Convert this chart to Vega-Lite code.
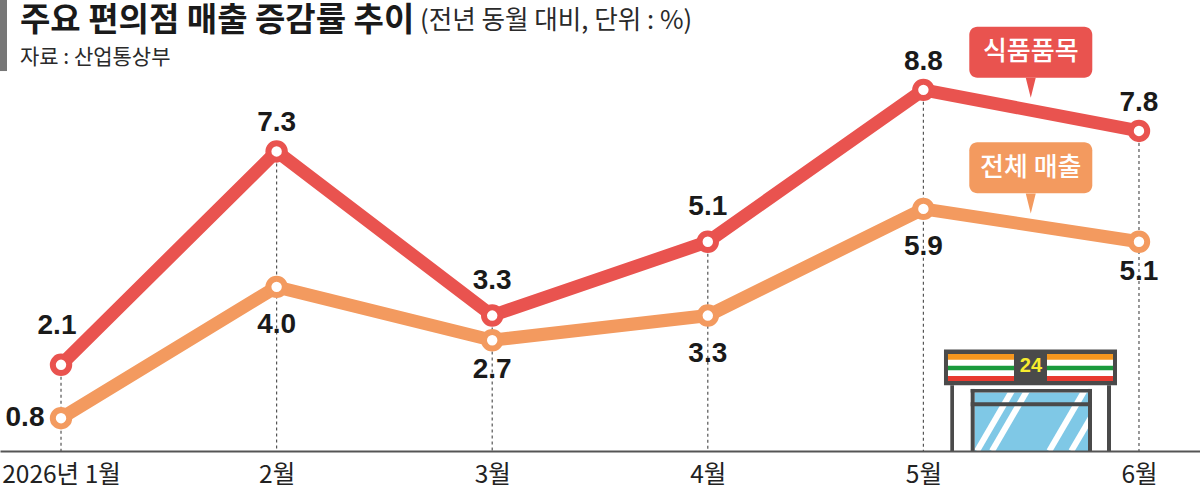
{
  "$schema": "https://vega.github.io/schema/vega-lite/v6.json",
  "width": 1200,
  "height": 451,
  "autosize": "none",
  "padding": {"left": 0, "top": 0, "right": 0, "bottom": 41},
  "background": "white",
  "config": {"view": {"stroke": null}},
  "datasets": {
    "trend": [
      {"month": 1, "part": "food", "value": 2.1},
      {"month": 2, "part": "food", "value": 7.3},
      {"month": 3, "part": "food", "value": 3.3},
      {"month": 4, "part": "food", "value": 5.1},
      {"month": 5, "part": "food", "value": 8.8},
      {"month": 6, "part": "food", "value": 7.8},
      {"month": 1, "part": "total", "value": 0.8},
      {"month": 2, "part": "total", "value": 4.0},
      {"month": 3, "part": "total", "value": 2.7},
      {"month": 4, "part": "total", "value": 3.3},
      {"month": 5, "part": "total", "value": 5.9},
      {"month": 6, "part": "total", "value": 5.1}
    ],
    "callouts": [
      {"part": "food", "label": "식품품목", "from": 5.2129, "to": 5.7834, "low": 9.097, "high": 10.339, "mid": 5.4981, "tip": 8.853, "textY": 9.718},
      {"part": "total", "label": "전체 매출", "from": 5.2129, "to": 5.7834, "low": 6.28, "high": 7.522, "mid": 5.4981, "tip": 6.031, "textY": 6.897}
    ],
    "glass": [
      {"part": "glass", "from": 5.2379, "to": 5.7635, "low": 0, "high": 1.425}
    ],
    "glints": [
      {"from": 5.2486, "to": 5.4124, "low": 0, "high": 1.481},
      {"from": 5.3182, "to": 5.4819, "low": 0, "high": 1.481},
      {"from": 5.5839, "to": 5.7481, "low": 0, "high": 1.481},
      {"from": 5.686, "to": 5.788, "low": 0, "high": 0.915}
    ],
    "store": [
      {"part": "dark", "from": 5.1248, "to": 5.1419, "low": 0, "high": 1.602},
      {"part": "dark", "from": 5.8516, "to": 5.8701, "low": 0, "high": 1.602},
      {"part": "dark", "from": 5.2194, "to": 5.2379, "low": 0, "high": 1.512},
      {"part": "dark", "from": 5.7635, "to": 5.782, "low": 0, "high": 1.512},
      {"part": "dark", "from": 5.2194, "to": 5.782, "low": 1.425, "high": 1.512},
      {"part": "dark", "from": 5.2194, "to": 5.782, "low": 1.092, "high": 1.189},
      {"part": "dark", "from": 5.0955, "to": 5.898, "low": 1.602, "high": 2.476},
      {"part": "white", "from": 5.1141, "to": 5.4202, "low": 1.706, "high": 2.362},
      {"part": "white", "from": 5.5733, "to": 5.8794, "low": 1.706, "high": 2.362},
      {"part": "orange", "from": 5.1141, "to": 5.4202, "low": 2.226, "high": 2.362},
      {"part": "orange", "from": 5.5733, "to": 5.8794, "low": 2.226, "high": 2.362},
      {"part": "green", "from": 5.1141, "to": 5.4202, "low": 1.966, "high": 2.08},
      {"part": "green", "from": 5.5733, "to": 5.8794, "low": 1.966, "high": 2.08},
      {"part": "red", "from": 5.1141, "to": 5.4202, "low": 1.706, "high": 1.828},
      {"part": "red", "from": 5.5733, "to": 5.8794, "low": 1.706, "high": 1.828}
    ],
    "tab": [
      {"part": "bar", "from": 0.717, "to": 0.7495, "low": 9.259, "high": 10.99}
    ]
  },
  "encoding": {
    "color": {
      "field": "part",
      "type": "nominal",
      "legend": null,
      "scale": {
        "domain": ["food", "total", "glass", "dark", "white", "orange", "green", "red", "bar"],
        "range": ["#e9534f", "#f39a5f", "#7fc8e6", "#4a4a4a", "#ffffff", "#f5961e", "#1a9a3c", "#e83a30", "#777777"]
      }
    }
  },
  "layer": [
    {
      "data": {"name": "tab"},
      "mark": {"type": "rect"},
      "encoding": {
        "x": {"field": "from", "type": "quantitative", "scale": {"domain": [0.717, 6.283], "nice": false, "zero": false}},
        "x2": {"field": "to"},
        "y": {"field": "low", "type": "quantitative", "scale": {"domain": [0, 10.99], "nice": false, "zero": false}, "axis": null},
        "y2": {"field": "high"}
      }
    },
    {
      "data": {"name": "trend"},
      "transform": [{"filter": "datum.part == 'food'"}],
      "mark": {"type": "rule", "color": "#555555", "strokeWidth": 1.2, "strokeDash": [3, 3]},
      "encoding": {
        "x": {
          "field": "month",
          "type": "quantitative",
          "axis": {
            "values": [1, 2, 3, 4, 5, 6],
            "labelExpr": "datum.value == 1 ? '2026년 1월' : datum.value + '월'",
            "title": null,
            "grid": false,
            "ticks": false,
            "domainColor": "#555555",
            "domainWidth": 2,
            "labelFont": "Noto Sans CJK KR",
            "labelFontSize": 24.5,
            "labelColor": "#222222",
            "labelPadding": 12,
            "labelOverlap": false,
            "labelFlush": false,
            "zindex": 1
          }
        },
        "y": {"field": "value", "type": "quantitative", "axis": null},
        "y2": {"datum": 0},
        "color": {"value": "#555555"}
      }
    },
    {
      "data": {"name": "glass"},
      "mark": {"type": "rect"},
      "encoding": {
        "x": {"field": "from", "type": "quantitative", "title": null},
        "x2": {"field": "to"},
        "y": {"field": "low", "type": "quantitative", "axis": null},
        "y2": {"field": "high"}
      }
    },
    {
      "data": {"name": "glints"},
      "mark": {"type": "rule", "strokeWidth": 6},
      "encoding": {
        "x": {"field": "from", "type": "quantitative", "title": null},
        "x2": {"field": "to"},
        "y": {"field": "low", "type": "quantitative", "axis": null},
        "y2": {"field": "high"},
        "color": {"value": "#ffffff"}
      }
    },
    {
      "data": {"name": "store"},
      "mark": {"type": "rect"},
      "encoding": {
        "x": {"field": "from", "type": "quantitative", "title": null},
        "x2": {"field": "to"},
        "y": {"field": "low", "type": "quantitative", "axis": null},
        "y2": {"field": "high"}
      }
    },
    {
      "data": {"values": [{"label": "24", "month": 5.499, "level": 2.063}]},
      "mark": {"type": "text", "font": "Liberation Sans", "fontWeight": "bold", "fontSize": 20, "baseline": "middle"},
      "encoding": {
        "x": {"field": "month", "type": "quantitative", "title": null},
        "y": {"field": "level", "type": "quantitative", "axis": null},
        "text": {"field": "label"},
        "color": {"value": "#f7ec2e"}
      }
    },
    {
      "data": {"name": "trend"},
      "mark": {"type": "line", "strokeWidth": 13},
      "encoding": {
        "x": {"field": "month", "type": "quantitative", "title": null},
        "y": {"field": "value", "type": "quantitative", "axis": null}
      }
    },
    {
      "data": {"name": "trend"},
      "mark": {"type": "point", "shape": "circle", "filled": false, "fill": "white", "fillOpacity": 1, "opacity": 1, "size": 270, "strokeWidth": 6},
      "encoding": {
        "x": {"field": "month", "type": "quantitative", "title": null},
        "y": {"field": "value", "type": "quantitative", "axis": null}
      }
    },
    {
      "data": {"name": "callouts"},
      "mark": {"type": "rect", "cornerRadius": 8},
      "encoding": {
        "x": {"field": "from", "type": "quantitative", "title": null},
        "x2": {"field": "to"},
        "y": {"field": "low", "type": "quantitative", "axis": null},
        "y2": {"field": "high"}
      }
    },
    {
      "data": {"name": "callouts"},
      "mark": {"type": "point", "shape": "M-0.5,-1L0.5,-1L0,1Z", "filled": true, "size": 400, "opacity": 1},
      "encoding": {
        "x": {"field": "mid", "type": "quantitative", "title": null},
        "y": {"field": "tip", "type": "quantitative", "axis": null}
      }
    },
    {
      "data": {"name": "callouts"},
      "mark": {"type": "text", "font": "Noto Sans CJK KR", "fontWeight": 500, "fontSize": 26, "baseline": "middle"},
      "encoding": {
        "x": {"field": "mid", "type": "quantitative", "title": null},
        "y": {"field": "textY", "type": "quantitative", "axis": null},
        "text": {"field": "label"},
        "color": {"value": "#ffffff"}
      }
    },
    {
      "data": {"name": "trend"},
      "transform": [{"filter": "datum.part == 'food' && (datum.month == 2 || datum.month >= 5)"}],
      "mark": {"type": "text", "font": "Liberation Sans", "fontWeight": "bold", "fontSize": 28, "baseline": "middle", "dy": -28},
      "encoding": {
        "x": {"field": "month", "type": "quantitative", "title": null},
        "y": {"field": "value", "type": "quantitative", "axis": null},
        "text": {"field": "value", "type": "quantitative", "format": ".1f"},
        "color": {"value": "#1a1a1a"}
      }
    },
    {
      "data": {"name": "trend"},
      "transform": [{"filter": "datum.part == 'food' && (datum.month == 3 || datum.month == 4)"}],
      "mark": {"type": "text", "font": "Liberation Sans", "fontWeight": "bold", "fontSize": 28, "baseline": "middle", "dy": -35},
      "encoding": {
        "x": {"field": "month", "type": "quantitative", "title": null},
        "y": {"field": "value", "type": "quantitative", "axis": null},
        "text": {"field": "value", "type": "quantitative", "format": ".1f"},
        "color": {"value": "#1a1a1a"}
      }
    },
    {
      "data": {"name": "trend"},
      "transform": [{"filter": "datum.part == 'food' && datum.month == 1"}],
      "mark": {"type": "text", "font": "Liberation Sans", "fontWeight": "bold", "fontSize": 28, "baseline": "middle", "dx": -4, "dy": -39},
      "encoding": {
        "x": {"field": "month", "type": "quantitative", "title": null},
        "y": {"field": "value", "type": "quantitative", "axis": null},
        "text": {"field": "value", "type": "quantitative", "format": ".1f"},
        "color": {"value": "#1a1a1a"}
      }
    },
    {
      "data": {"name": "trend"},
      "transform": [{"filter": "datum.part == 'total' && datum.month == 1"}],
      "mark": {"type": "text", "font": "Liberation Sans", "fontWeight": "bold", "fontSize": 28, "baseline": "middle", "dx": -36},
      "encoding": {
        "x": {"field": "month", "type": "quantitative", "title": null},
        "y": {"field": "value", "type": "quantitative", "axis": null},
        "text": {"field": "value", "type": "quantitative", "format": ".1f"},
        "color": {"value": "#1a1a1a"}
      }
    },
    {
      "data": {"name": "trend"},
      "transform": [{"filter": "datum.part == 'total' && (datum.month == 2 || datum.month == 4 || datum.month == 5)"}],
      "mark": {"type": "text", "font": "Liberation Sans", "fontWeight": "bold", "fontSize": 28, "baseline": "middle", "dy": 38},
      "encoding": {
        "x": {"field": "month", "type": "quantitative", "title": null},
        "y": {"field": "value", "type": "quantitative", "axis": null},
        "text": {"field": "value", "type": "quantitative", "format": ".1f"},
        "color": {"value": "#1a1a1a"}
      }
    },
    {
      "data": {"name": "trend"},
      "transform": [{"filter": "datum.part == 'total' && (datum.month == 3 || datum.month == 6)"}],
      "mark": {"type": "text", "font": "Liberation Sans", "fontWeight": "bold", "fontSize": 28, "baseline": "middle", "dy": 30},
      "encoding": {
        "x": {"field": "month", "type": "quantitative", "title": null},
        "y": {"field": "value", "type": "quantitative", "axis": null},
        "text": {"field": "value", "type": "quantitative", "format": ".1f"},
        "color": {"value": "#1a1a1a"}
      }
    },
    {
      "data": {"values": [{"label": "주요 편의점 매출 증감률 추이", "month": 0.8098, "level": 10.478}]},
      "mark": {"type": "text", "font": "Noto Sans CJK KR", "fontWeight": "bold", "fontSize": 33, "align": "left", "baseline": "middle"},
      "encoding": {
        "x": {"field": "month", "type": "quantitative", "title": null},
        "y": {"field": "level", "type": "quantitative", "axis": null},
        "text": {"field": "label"},
        "color": {"value": "#1a1a1a"}
      }
    },
    {
      "data": {"values": [{"label": "(전년 동월 대비, 단위 : %)", "month": 2.665, "level": 10.478}]},
      "mark": {"type": "text", "font": "Noto Sans CJK KR", "fontSize": 25.6, "align": "left", "baseline": "middle"},
      "encoding": {
        "x": {"field": "month", "type": "quantitative", "title": null},
        "y": {"field": "level", "type": "quantitative", "axis": null},
        "text": {"field": "label"},
        "color": {"value": "#2a2a2a"}
      }
    },
    {
      "data": {"values": [{"label": "자료 : 산업통상부", "month": 0.8098, "level": 9.577}]},
      "mark": {"type": "text", "font": "Noto Sans CJK KR", "fontSize": 21, "align": "left", "baseline": "middle"},
      "encoding": {
        "x": {"field": "month", "type": "quantitative", "title": null},
        "y": {"field": "level", "type": "quantitative", "axis": null},
        "text": {"field": "label"},
        "color": {"value": "#2a2a2a"}
      }
    }
  ]
}
